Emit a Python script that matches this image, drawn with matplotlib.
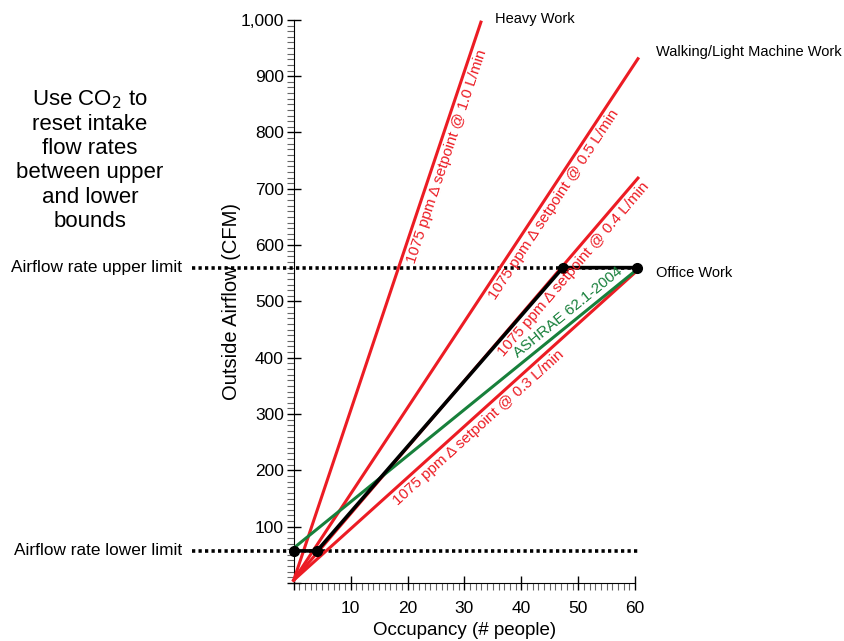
import numpy as np
import matplotlib

matplotlib.use("Agg")
import matplotlib.pyplot as plt
from matplotlib.ticker import FuncFormatter, MultipleLocator

plt.rcParams["font.family"] = ["Liberation Sans", "DejaVu Sans"]

RED = "#ec1c24"
GREEN = "#17803b"

# ------------------------------------------------------------------
# Dados
# ------------------------------------------------------------------
# retas de CO2 (1075 ppm de delta no setpoint) - todas saem de (0, 5)
taxas = ["1.0", "0.5", "0.4", "0.3"]
reta_x0, reta_y0 = 0.0, 5.0
reta_x1 = [32.9, 60.5, 60.5, 60.5]
reta_y1 = [996, 931, 719, 556]
# onde fica o rótulo ao longo de cada reta (x em pessoas)
rotulo_x = [25.2, 44.2, 47.8, 31.2]

# ASHRAE 62.1-2004
ashrae_x = [0.0, 60.5]
ashrae_y = [62, 558]
ashrae_rotulo_x = 49.4

# controle por CO2 entre os limites
ctrl_x = [0.0, 4.1, 47.3, 60.4]
ctrl_y = [57, 57, 560, 560]

LIMITE_SUP = 560
LIMITE_INF = 57

fig = plt.figure(figsize=(8.44, 6.41), dpi=100)
ax = fig.add_axes([0.348, 0.0905, 0.4045, 0.8785])
ax.set_xlim(0, 60)
ax.set_ylim(0, 1000)


def rotulo_reta(x, y, incl, texto, cor, lado):
    """Escreve o texto paralelo à reta, deslocado para baixo (+1) ou cima (-1)."""
    p0 = ax.transData.transform((x, y))
    p1 = ax.transData.transform((x + 1, y + incl))
    ang = np.arctan2(p1[1] - p0[1], p1[0] - p0[0])
    d = 2.5 * lado
    ax.annotate(texto, xy=(x, y), xytext=(d * np.sin(ang), -d * np.cos(ang)),
                textcoords="offset points", color=cor, fontsize=11,
                rotation=np.degrees(ang), rotation_mode="anchor", ha="center",
                va="top" if lado > 0 else "bottom", zorder=5)


# limites de vazão (pontilhados, saem para fora do eixo)
for lim in (LIMITE_SUP, LIMITE_INF):
    ax.plot([-17.8, 60.8], [lim, lim], color="black", lw=2.6,
            ls=(0, (0.9, 0.9)), clip_on=False, zorder=2)

# retas de CO2
for taxa, x1, y1, xr in zip(taxas, reta_x1, reta_y1, rotulo_x):
    ax.plot([reta_x0, x1], [reta_y0, y1], color=RED, lw=2.2,
            clip_on=False, zorder=3)
    incl = (y1 - reta_y0) / (x1 - reta_x0)
    rotulo_reta(xr, reta_y0 + incl * xr, incl,
                f"1075 ppm \u0394 setpoint @ {taxa} L/min", RED, 1)

# ASHRAE
ax.plot(ashrae_x, ashrae_y, color=GREEN, lw=2.2, clip_on=False, zorder=3)
incl = (ashrae_y[1] - ashrae_y[0]) / (ashrae_x[1] - ashrae_x[0])
rotulo_reta(ashrae_rotulo_x, ashrae_y[0] + incl * ashrae_rotulo_x, incl,
            "ASHRAE 62.1-2004", GREEN, -1)

# curva de controle
ax.plot(ctrl_x, ctrl_y, color="black", lw=2.6, marker="o", ms=7,
        clip_on=False, zorder=4)

# rótulos das atividades
ax.text(35.4, 1002, "Heavy Work", fontsize=10.5, va="center", clip_on=False)
ax.text(63.7, 943, "Walking/Light Machine Work", fontsize=10.5, va="center",
        clip_on=False)
ax.text(63.7, 551, "Office Work", fontsize=10.5, va="center", clip_on=False)
ax.text(-19.6, LIMITE_SUP, "Airflow rate upper limit", fontsize=12.4,
        ha="right", va="center", clip_on=False)
ax.text(-19.6, LIMITE_INF, "Airflow rate lower limit", fontsize=12.4,
        ha="right", va="center", clip_on=False)

fig.text(90 / 844, 1 - 160 / 641,
         "Use CO$_2$ to\nreset intake\nflow rates\nbetween upper\nand lower\nbounds",
         fontsize=16, ha="center", va="center", linespacing=1.2)

# eixos
for lado in ("top", "right"):
    ax.spines[lado].set_visible(False)
ax.xaxis.set_major_locator(MultipleLocator(10))
ax.xaxis.set_minor_locator(MultipleLocator(1))
ax.yaxis.set_major_locator(MultipleLocator(100))
ax.yaxis.set_minor_locator(MultipleLocator(10))
ax.xaxis.set_major_formatter(FuncFormatter(lambda v, p: "" if v == 0 else f"{v:g}"))
ax.yaxis.set_major_formatter(FuncFormatter(lambda v, p: "" if v == 0 else f"{v:,.0f}"))
ax.tick_params(which="major", direction="inout", length=10, width=1,
               labelsize=12.5)
ax.tick_params(axis="x", which="major", pad=8)
ax.tick_params(axis="y", which="major", pad=2)
ax.tick_params(which="minor", direction="out", length=5, width=0.8,
               color="0.4")
ax.set_xlabel("Occupancy (# people)", fontsize=13.5, labelpad=4)
ax.set_ylabel("Outside Airflow (CFM)", fontsize=14.5, labelpad=0)

fig.savefig("out.png", dpi=100)
